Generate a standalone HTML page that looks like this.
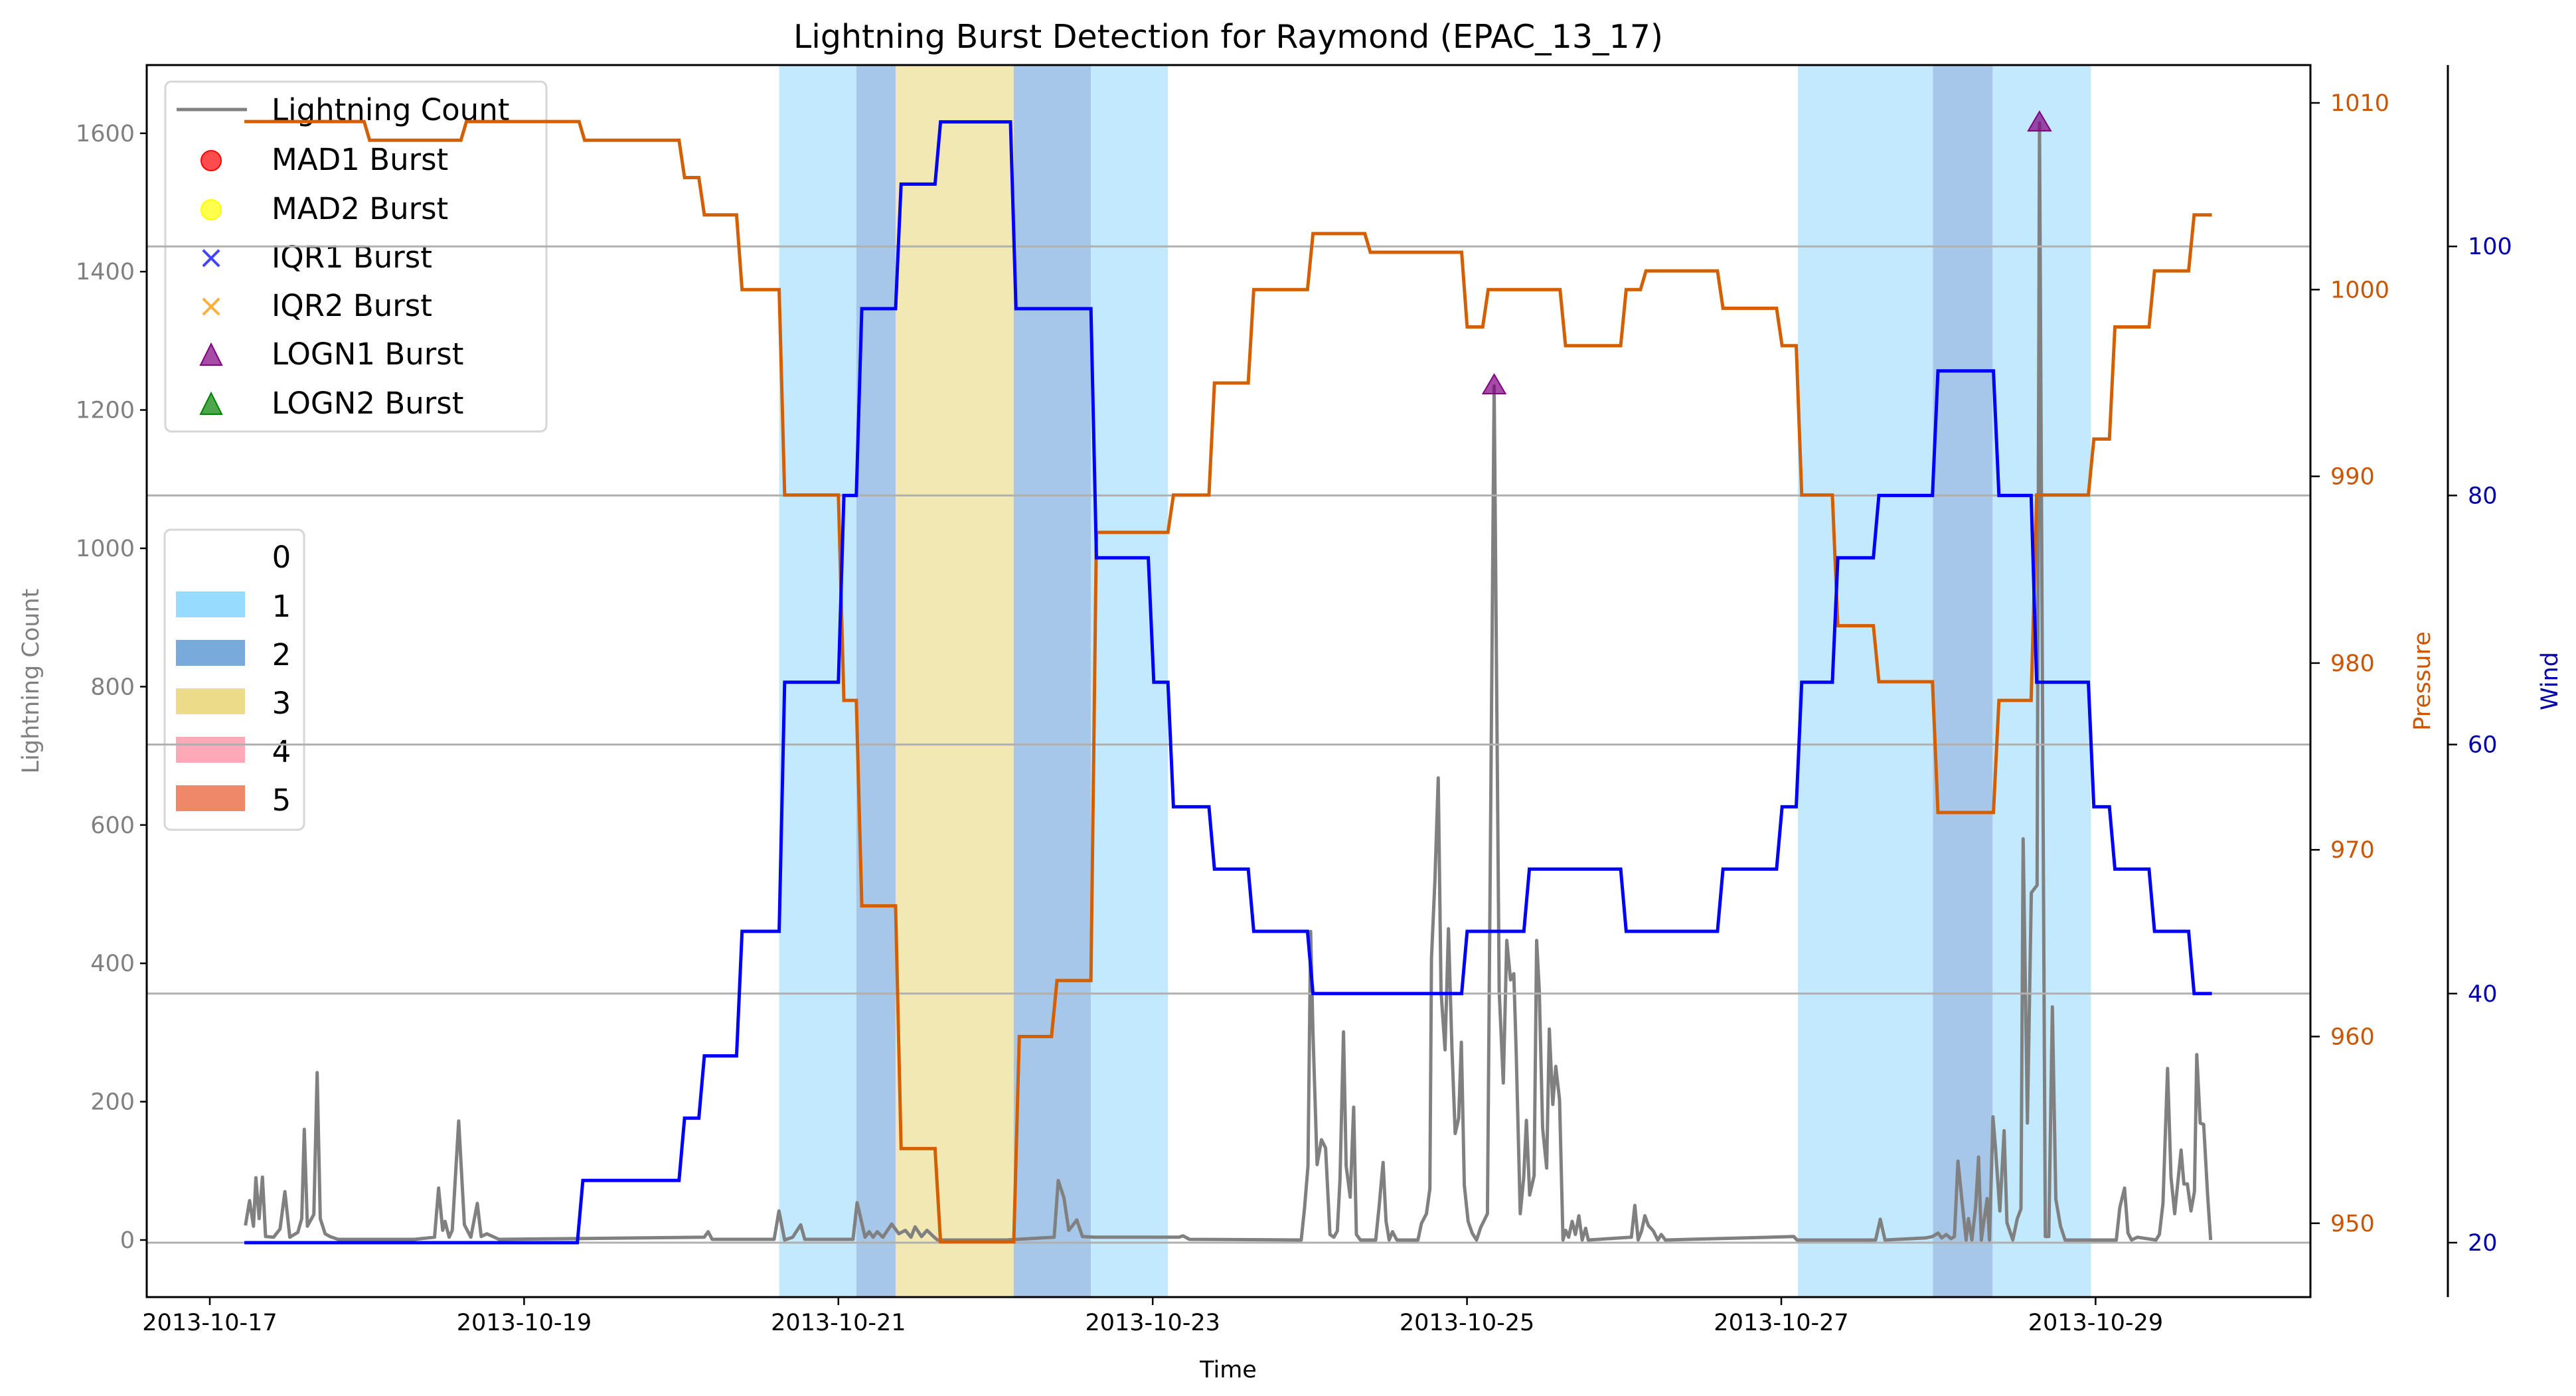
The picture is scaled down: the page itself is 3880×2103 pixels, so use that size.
<!DOCTYPE html>
<html><head><meta charset="utf-8"><style>
html,body{margin:0;padding:0;background:#fff;}
svg{display:block;font-family:"DejaVu Sans","Liberation Sans",sans-serif;}
</style></head><body>
<svg id="chart" width="3880" height="2103" viewBox="0 0 3880 2103" xmlns="http://www.w3.org/2000/svg">
<g id="shades"></g>
<g id="lightning"></g>
<g id="legend1">
<rect x="249" y="123" width="574" height="527" rx="9" fill="#fff" fill-opacity="0.85" stroke="#d6d6d6" stroke-width="3"/>
<line x1="266" y1="165" x2="372" y2="165" stroke="#808080" stroke-width="5"/>
<text x="409" y="181" font-size="45">Lightning Count</text>
<circle cx="318" cy="242" r="15" fill="#ff0000" fill-opacity="0.7" stroke="#ff0000" stroke-width="2"/>
<text x="409" y="256" font-size="45">MAD1 Burst</text>
<circle cx="318" cy="316" r="15" fill="#ffff00" fill-opacity="0.7" stroke="#ffff00" stroke-width="2"/>
<text x="409" y="330" font-size="45">MAD2 Burst</text>
<text x="318" y="404" font-size="48" text-anchor="middle" fill="#4444ff">×</text>
<text x="409" y="403" font-size="45">IQR1 Burst</text>
<text x="318" y="477" font-size="48" text-anchor="middle" fill="#ffb040">×</text>
<text x="409" y="476" font-size="45">IQR2 Burst</text>
<polygon points="318,518 302,550 334,550" fill="#800080" fill-opacity="0.7" stroke="#800080" stroke-width="2"/>
<text x="409" y="549" font-size="45">LOGN1 Burst</text>
<polygon points="318,592 302,624 334,624" fill="#008000" fill-opacity="0.7" stroke="#008000" stroke-width="2"/>
<text x="409" y="623" font-size="45">LOGN2 Burst</text>
</g>
<g id="legend2">
<rect x="248" y="798" width="210" height="452" rx="9" fill="#fff" fill-opacity="0.85" stroke="#d6d6d6" stroke-width="3"/>
<text x="424" y="855" font-size="45" text-anchor="middle">0</text>
<rect x="265" y="891" width="104" height="39" fill="#97dcfe"/><text x="424" y="929" font-size="45" text-anchor="middle">1</text>
<rect x="265" y="964" width="104" height="39" fill="#79aadc"/><text x="424" y="1002" font-size="45" text-anchor="middle">2</text>
<rect x="265" y="1037" width="104" height="39" fill="#ecdc8a"/><text x="424" y="1075" font-size="45" text-anchor="middle">3</text>
<rect x="265" y="1110" width="104" height="39" fill="#fea9b8"/><text x="424" y="1148" font-size="45" text-anchor="middle">4</text>
<rect x="265" y="1183" width="104" height="39" fill="#ee8868"/><text x="424" y="1221" font-size="45" text-anchor="middle">5</text>
</g>
<g id="grid"></g>
<g id="pressure"></g>
<g id="wind"></g>
<g id="markers"></g>
<g id="axes"></g>
<text x="1850" y="72" font-size="49" text-anchor="middle">Lightning Burst Detection for Raymond (EPAC_13_17)</text>
<text x="1850" y="2075" font-size="35" text-anchor="middle">Time</text>
<text transform="translate(58,1026) rotate(-90)" font-size="35" text-anchor="middle" fill="#808080">Lightning Count</text>
<text transform="translate(3660,1026) rotate(-90)" font-size="35" text-anchor="middle" fill="#cc5500">Pressure</text>
<text transform="translate(3852,1026) rotate(-90)" font-size="35" text-anchor="middle" fill="#0000aa">Wind</text>
</svg>
<script>
// ---- data ----
const lightDays=[17.227,17.253,17.278,17.293,17.314,17.335,17.355,17.406,17.447,17.478,17.509,17.560,17.585,17.601,17.621,17.662,17.683,17.703,17.734,17.765,17.816,18.302,18.430,18.456,18.482,18.497,18.523,18.543,18.584,18.620,18.661,18.702,18.727,18.763,18.840,20.146,20.171,20.197,20.591,20.622,20.658,20.709,20.760,20.786,21.093,21.119,21.170,21.196,21.221,21.247,21.283,21.339,21.385,21.426,21.462,21.488,21.529,21.564,21.605,21.631,22.066,22.373,22.399,22.435,22.466,22.517,22.553,22.630,23.167,23.193,23.234,23.945,23.966,23.988,24.005,24.020,24.046,24.074,24.100,24.128,24.153,24.175,24.192,24.214,24.231,24.257,24.279,24.296,24.322,24.419,24.440,24.466,24.485,24.505,24.526,24.554,24.688,24.710,24.742,24.764,24.774,24.796,24.817,24.835,24.860,24.882,24.904,24.925,24.947,24.964,24.983,25.007,25.033,25.061,25.087,25.130,25.173,25.205,25.231,25.253,25.277,25.298,25.313,25.339,25.361,25.378,25.399,25.427,25.443,25.460,25.481,25.507,25.524,25.546,25.565,25.589,25.611,25.628,25.647,25.669,25.690,25.712,25.733,25.755,25.772,26.046,26.068,26.089,26.111,26.132,26.154,26.186,26.214,26.236,26.262,27.08,27.1,27.6,27.63,27.66,27.917,27.961,27.998,28.021,28.050,28.080,28.102,28.124,28.154,28.176,28.191,28.213,28.236,28.255,28.273,28.295,28.310,28.325,28.347,28.362,28.391,28.418,28.436,28.473,28.502,28.525,28.539,28.566,28.591,28.628,28.643,28.680,28.702,28.725,28.747,28.777,28.806,29.132,29.154,29.184,29.206,29.229,29.266,29.384,29.406,29.429,29.458,29.480,29.503,29.544,29.562,29.584,29.607,29.629,29.644,29.666,29.688,29.713,29.732];
const lightCounts=[21,57,20,90,31,91,5,4,16,70,4,11,31,160,20,37,242,31,9,5,1,1,4,75,14,27,4,14,172,22,4,53,5,9,1,4,12,1,1,42,0,4,22,1,1,54,4,12,4,12,4,23,9,14,4,19,5,14,5,0,0,4,86,61,14,29,5,4,4,6,1,0,46,107,446,300,109,145,133,8,4,13,87,301,107,62,192,8,0,0,46,112,27,0,12,0,0,24,38,74,407,520,668,360,275,450,278,154,176,286,79,27,10,0,18,38,1235,360,227,433,376,385,272,38,90,173,65,93,433,360,162,104,305,196,251,203,0,14,4,27,8,35,0,17,0,4,50,0,13,35,21,13,0,8,0,5,0,0,30,0,3,5,10,3,8,2,5,114,47,0,31,0,47,120,0,36,60,0,178,136,42,158,25,0,31,45,580,169,502,513,1615,5,5,337,59,20,0,0,47,75,10,0,4,0,8,53,248,91,38,130,81,81,42,70,268,169,167,64,0];
const windDays=[17.22,19.339,19.986,20.112,20.352,20.623,21.0,21.114,21.364,21.615,22.095,22.607,22.972,23.097,23.358,23.608,23.985,24.966,25.362,25.978,26.594,26.97,27.095,27.325,27.586,27.962,28.35,28.59,28.954,29.088,29.34,29.592];
const windValues=[20,25,30,35,45,65,80,95,105,110,95,75,65,55,50,45,40,45,50,45,50,55,65,75,80,90,80,65,55,50,45,40];
const pressDays=[17.22,17.982,18.598,19.35,19.986,20.112,20.352,20.623,21.0,21.114,21.364,21.615,22.116,22.356,22.607,23.097,23.358,23.608,23.985,24.35,24.966,25.1,25.592,25.978,26.104,26.594,26.97,27.095,27.325,27.586,27.962,28.35,28.59,28.954,29.088,29.34,29.592];
const pressValues=[1009,1008,1009,1008,1006,1004,1000,989,978,967,954,949,960,963,987,989,995,1000,1003,1002,998,1000,997,1000,1001,999,997,989,982,979,972,978,989,992,998,1001,1004];
const seriesEnd=29.74;
const burstDays=[25.173,28.643];
const burstCounts=[1235,1615];
const levelStarts=[20.623,21.114,21.364,22.116,22.607,27.106,27.965,28.345];
const levelEnds=[21.114,21.364,22.116,22.607,23.097,27.965,28.345,28.97];
const levelCodes=[1,2,3,2,1,1,2,1];
const countTicks=[0,200,400,600,800,1000,1200,1400,1600];
const pressTicks=[950,960,970,980,990,1000,1010];
const windTicks=[20,40,60,80,100];
const dateTicks=[17,19,21,23,25,27,29];
const dateLabels=["2013-10-17","2013-10-19","2013-10-21","2013-10-23","2013-10-25","2013-10-27","2013-10-29"];

// ---- scales ----
const L=221,R=3480,T=98,B=1954,WX=3687;
const xs=d=>316+(d-17)*236.7;
const yc=c=>1868-c*1.042;
const yp=p=>155+(1010-p)*28.13;
const yw=w=>1872-(w-20)*18.76;
const NS="http://www.w3.org/2000/svg";
function mk(tag,attrs,parent){const e=document.createElementNS(NS,tag);for(const k in attrs)e.setAttribute(k,attrs[k]);parent.appendChild(e);return e;}
const gS=document.getElementById('shades'),gL=document.getElementById('lightning'),gG=document.getElementById('grid'),gP=document.getElementById('pressure'),gW=document.getElementById('wind'),gM=document.getElementById('markers'),gA=document.getElementById('axes');
const levelColor={1:'#c2e9fd',2:'#a7c7e9',3:'#f2e8b4',4:'#fdd4dc',5:'#f4c0ac'};

levelStarts.forEach((s,i)=>{
  const r=mk('rect',{x:xs(s),y:T,width:xs(levelEnds[i])-xs(s),height:B-T,fill:levelColor[levelCodes[i]]},gS);
  
  
});

let d='';lightDays.forEach((t,i)=>{d+=(i?'L':'M')+xs(t).toFixed(1)+','+yc(lightCounts[i]).toFixed(1);});
const lp=mk('path',{d:d,fill:'none',stroke:'#808080','stroke-width':5,'stroke-linejoin':'round'},gL);



windTicks.forEach(w=>{
  const g=mk('line',{x1:L,x2:R,y1:yw(w),y2:yw(w),stroke:'#b0b0b0','stroke-width':3},gG);
  
  
});

function stepPath(days,vals,yf){
  let s='',ramp=0.035;
  days.forEach((t,i)=>{
    const y=yf(vals[i]);
    if(i===0)s+='M'+xs(t)+','+y;
    else s+='L'+xs(t)+','+yf(vals[i-1])+'L'+xs(t+ramp)+','+y;
  });
  s+='L'+xs(seriesEnd)+','+yf(vals[vals.length-1]);
  return s;
}
const pp=mk('path',{d:stepPath(pressDays,pressValues,yp),fill:'none',stroke:'#d45f00','stroke-width':5},gP);


const wp=mk('path',{d:stepPath(windDays,windValues,yw),fill:'none',stroke:'#0000ff','stroke-width':5},gW);



burstDays.forEach((t,i)=>{
  const x=xs(t),y=yc(burstCounts[i]);
  const m=mk('polygon',{points:`${x},${y-17} ${x-17},${y+12} ${x+17},${y+12}`,fill:'#800080','fill-opacity':0.7,stroke:'#800080','stroke-width':2},gM);
  
  
});

// axes frame
mk('rect',{x:L,y:T,width:R-L,height:B-T,fill:'none',stroke:'#000','stroke-width':3},gA);
mk('line',{x1:WX,x2:WX,y1:T,y2:B,stroke:'#000','stroke-width':3},gA);
countTicks.forEach(c=>{
  mk('line',{x1:L-10,x2:L,y1:yc(c),y2:yc(c),stroke:'#000','stroke-width':2.5},gA);
  const t=mk('text',{x:L-18,y:yc(c)+12,'font-size':35,'text-anchor':'end',fill:'#808080'},gA);t.textContent=c;
  
  
});
pressTicks.forEach(p=>{
  mk('line',{x1:R,x2:R+14,y1:yp(p),y2:yp(p),stroke:'#000','stroke-width':2.5},gA);
  const t=mk('text',{x:R+30,y:yp(p)+12,'font-size':35,fill:'#cc5500'},gA);t.textContent=p;
  
  
});
windTicks.forEach(w=>{
  mk('line',{x1:WX,x2:WX+14,y1:yw(w),y2:yw(w),stroke:'#000','stroke-width':2.5},gA);
  const t=mk('text',{x:WX+30,y:yw(w)+12,'font-size':35,fill:'#0000aa'},gA);t.textContent=w;
  
  
});
dateTicks.forEach((dd,i)=>{
  mk('line',{x1:xs(dd),x2:xs(dd),y1:B,y2:B+12,stroke:'#000','stroke-width':2.5},gA);
  const t=mk('text',{x:xs(dd),y:B+50,'font-size':35,'text-anchor':'middle'},gA);t.textContent=dateLabels[i];
  
  
});
</script>
</body></html>
